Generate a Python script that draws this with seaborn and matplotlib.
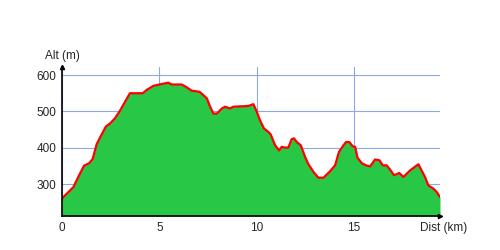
import matplotlib
matplotlib.use("Agg")
import matplotlib.pyplot as plt
import seaborn as sns
import pandas as pd

dist_km = [0.0, 0.03, 0.41, 0.58, 0.79, 0.92, 1.13, 1.40, 1.58, 1.78, 2.04, 2.26, 2.47, 2.72, 2.98,
           3.19, 3.49, 4.15, 4.35, 4.69, 5.0, 5.29, 5.46, 5.64, 6.15, 6.41, 6.66, 7.06, 7.26, 7.44,
           7.61, 7.78, 7.95, 8.21, 8.38, 8.63, 8.80, 9.57, 9.83, 9.97, 10.17, 10.38, 10.6, 10.72,
           10.95, 11.15, 11.29, 11.42, 11.63, 11.80, 11.92, 12.06, 12.27, 12.49, 12.66, 12.92,
           13.17, 13.43, 13.74, 14.03, 14.23, 14.46, 14.59, 14.76, 14.94, 15.06, 15.18, 15.40,
           15.62, 15.83, 16.08, 16.31, 16.48, 16.68, 16.86, 17.06, 17.33, 17.54, 17.88, 18.31,
           18.65, 18.82, 19.08, 19.25, 19.42]
alt_m = [260, 263, 283, 292, 315, 329, 351, 358, 370, 410, 437, 459, 467, 481, 502,
         522, 550, 550, 559, 570, 574, 577, 579, 574, 574, 566, 557, 554, 545, 536,
         513, 494, 494, 508, 513, 508, 513, 515, 520, 504, 476, 453, 444, 437,
         407, 393, 403, 401, 401, 424, 426, 416, 407, 375, 355, 334,
         318, 318, 334, 352, 389, 407, 416, 416, 404, 403, 373, 358,
         352, 349, 368, 366, 352, 352, 340, 325, 331, 320, 338, 355,
         320, 297, 288, 279, 265]
x_ticks = [0, 5, 10, 15]
y_ticks = [300, 400, 500, 600]
x_label = "Dist (km)"
y_label = "Alt (m)"

df = pd.DataFrame({"dist": dist_km, "alt": alt_m})

sns.set_style("white")
plt.rcParams["font.family"] = ["Liberation Sans", "DejaVu Sans"]

fig = plt.figure(figsize=(5, 2.5), dpi=100)
ax = fig.add_axes([0.124, 0.136, 0.756, 0.596])
ymin, ymax = 213, 622
ax.fill_between(df["dist"], df["alt"], ymin, color="#28C846", zorder=2, linewidth=0)
sns.lineplot(data=df, x="dist", y="alt", ax=ax, color="#FF0000", linewidth=1.6, zorder=3)
ax.set_xlim(0, df["dist"].max())
ax.set_ylim(ymin, ymax)
ax.set_xticks(x_ticks)
ax.set_yticks(y_ticks)
ax.set_xticklabels([str(t) for t in x_ticks], fontsize=8.5)
ax.set_yticklabels([str(t) for t in y_ticks], fontsize=8.5)
ax.tick_params(length=0, pad=4)
ax.grid(True, color="#8CA8E8", linewidth=0.8, zorder=1)
ax.set_axisbelow(True)
for s in ["top", "right"]:
    ax.spines[s].set_visible(False)
for s in ["left", "bottom"]:
    ax.spines[s].set_color("black")
    ax.spines[s].set_linewidth(1.2)
    ax.spines[s].set_zorder(4)
ax.set_xlabel("")
ax.set_ylabel("")
# axis arrows
ax.plot([0], [1], marker="^", color="black", markersize=3, transform=ax.transAxes, clip_on=False, zorder=5)
ax.plot([1], [0], marker=">", color="black", markersize=3, transform=ax.transAxes, clip_on=False, zorder=5)
ax.text(0, 1.035, y_label, transform=ax.transAxes, ha="center", va="bottom", fontsize=8.5)
ax.text(1.01, -0.04, x_label, transform=ax.transAxes, ha="center", va="top", fontsize=8.5)
fig.savefig("out.png", dpi=100)
